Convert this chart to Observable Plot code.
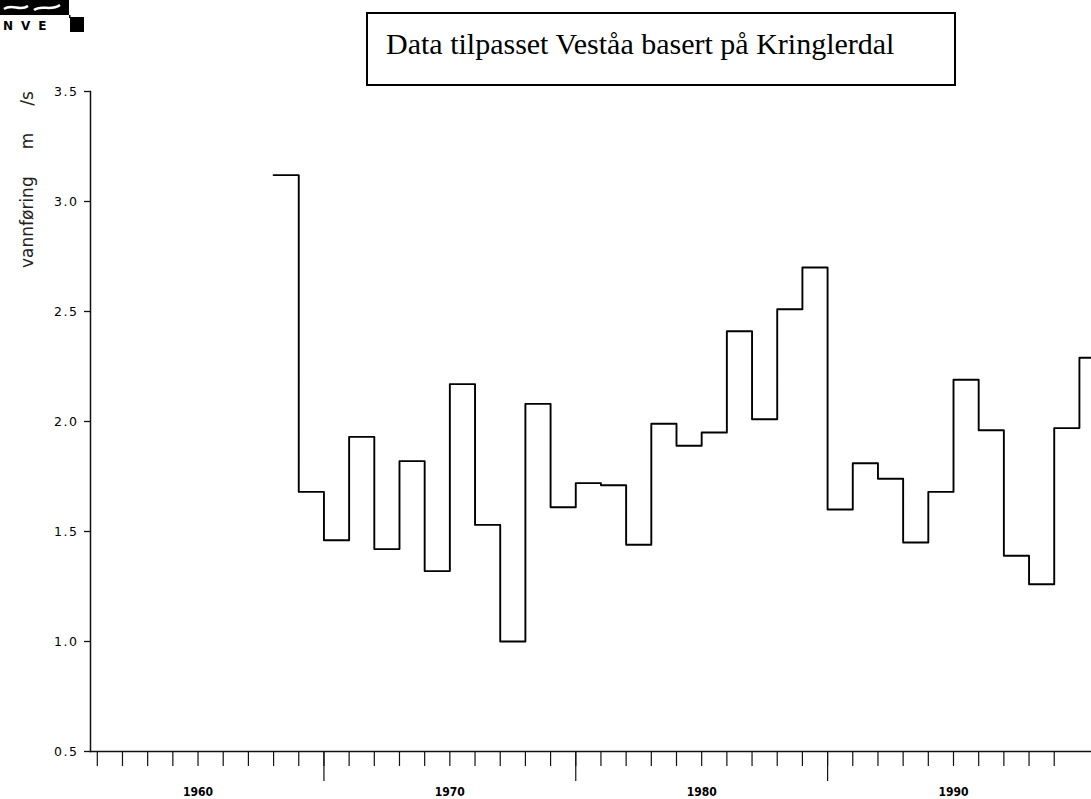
<!DOCTYPE html>
<html>
<head>
<meta charset="utf-8">
<script src="https://cdn.jsdelivr.net/npm/d3@7"></script>
<script src="https://cdn.jsdelivr.net/npm/@observablehq/plot@0.6"></script>
<style>
  html, body { margin: 0; padding: 0; background: #fff; }
  #chart { width: 1091px; height: 799px; }
</style>
</head>
<body>
<div id="chart"></div>
<script>
// ---- data ----
const years = [1963, 1964, 1965, 1966, 1967, 1968, 1969, 1970, 1971, 1972, 1973,
  1974, 1975, 1976, 1977, 1978, 1979, 1980, 1981, 1982, 1983, 1984, 1985, 1986,
  1987, 1988, 1989, 1990, 1991, 1992, 1993, 1994, 1995];
const discharge = [3.12, 1.68, 1.46, 1.93, 1.42, 1.82, 1.32, 2.17, 1.53, 1.00, 2.08,
  1.61, 1.72, 1.71, 1.44, 1.99, 1.89, 1.95, 2.41, 2.01, 2.51, 2.70, 1.60, 1.81,
  1.74, 1.45, 1.68, 2.19, 1.96, 1.39, 1.26, 1.97, 2.29];

const yTicks = [0.5, 1.0, 1.5, 2.0, 2.5, 3.0, 3.5];
const yTickLabels = ["0.5", "1.0", "1.5", "2.0", "2.5", "3.0", "3.5"];
const xMinorTicks = [1956, 1957, 1958, 1959, 1960, 1961, 1962, 1963, 1964, 1965,
  1966, 1967, 1968, 1969, 1970, 1971, 1972, 1973, 1974, 1975, 1976, 1977, 1978,
  1979, 1980, 1981, 1982, 1983, 1984, 1985, 1986, 1987, 1988, 1989, 1990, 1991,
  1992, 1993, 1994];
const xLongTicks = [1965, 1975, 1985];
const xLabelYears = [1960, 1970, 1980, 1990];
const xLabels = ["1960", "1970", "1980", "1990"];

const titleText = "Data tilpasset Veståa basert på Kringlerdal";
const yTitle = "vannføring     m     /s";

// table for the step line (last step is carried on to the next year)
const table = years.map((y, i) => ({year: y, value: discharge[i]}));
table.push({year: years[years.length - 1] + 1, value: discharge[discharge.length - 1]});

const xDomain = [1955.73, 1995.48];

const sans = "'DejaVu Sans', Lato, sans-serif";
const narrow = "'Liberation Sans Narrow', 'DejaVu Sans Condensed', 'DejaVu Sans', sans-serif";

const svg = Plot.plot({
  width: 1091,
  height: 799,
  marginLeft: 90,
  marginRight: 0,
  marginTop: 91,
  marginBottom: 48,
  style: {background: "#fff", color: "#111", overflow: "visible"},
  x: {domain: xDomain, axis: null},
  y: {domain: [0.5, 3.5], axis: null},
  marks: [
    Plot.axisY({
      ticks: yTicks, tickSize: 6, tickPadding: 6,
      tickFormat: d => yTickLabels[yTicks.indexOf(d)],
      strokeWidth: 1.3, label: null
    }),
    Plot.axisX({
      ticks: xMinorTicks, tickSize: 15, tickFormat: () => "",
      strokeWidth: 1.2, label: null
    }),
    Plot.axisX({
      ticks: xLongTicks, tickSize: 30, tickFormat: () => "",
      strokeWidth: 1.2, label: null
    }),
    Plot.axisX({
      ticks: xLabelYears, tickSize: 0, tickPadding: 36,
      tickFormat: d => xLabels[xLabelYears.indexOf(d)],
      label: null
    }),
    Plot.frame({anchor: "left", stroke: "#111", strokeWidth: 1.5}),
    Plot.frame({anchor: "bottom", stroke: "#111", strokeWidth: 1.5}),
    Plot.line(table, {
      x: "year", y: "value", curve: "step-after",
      stroke: "#000", strokeWidth: 1.9, clip: true
    })
  ]
});

const s = d3.select(svg);

// style tick labels
s.selectAll("g[aria-label='y-axis tick label'] text")
  .attr("font-family", sans).attr("font-size", 12.5).attr("letter-spacing", "1.5")
  .attr("font-weight", "500").attr("fill", "#000");
s.selectAll("g[aria-label='x-axis tick label'] text")
  .attr("font-family", narrow).attr("font-size", 12).attr("font-weight", "bold")
  .attr("fill", "#000");

// y-axis title (rotated)
s.append("text")
  .attr("transform", "translate(33,268) rotate(-90)")
  .attr("text-anchor", "start")
  .attr("font-family", sans)
  .attr("font-size", 17)
  .attr("fill", "#222")
  .attr("xml:space", "preserve")
  .style("white-space", "pre")
  .text(yTitle);

// title box
s.append("rect")
  .attr("x", 367).attr("y", 13).attr("width", 588).attr("height", 72)
  .attr("fill", "none").attr("stroke", "#000").attr("stroke-width", 2);
s.append("text")
  .attr("x", 386).attr("y", 54)
  .attr("text-anchor", "start")
  .attr("font-family", "'Liberation Serif', 'Times New Roman', serif")
  .attr("font-size", 30)
  .attr("fill", "#000")
  .text(titleText);

// NVE logo (cropped at the top edge)
const logo = s.append("g");
logo.append("rect").attr("x", 0).attr("y", 0).attr("width", 69).attr("height", 15).attr("fill", "#000");
logo.append("path")
  .attr("d", "M4,9 C12,3 20,12 28,6 M34,10 C42,4 50,12 60,5")
  .attr("fill", "none").attr("stroke", "#fff").attr("stroke-width", 2.5);
logo.append("rect").attr("x", 69).attr("y", 15).attr("width", 1.5).attr("height", 3).attr("fill", "#000");
logo.append("rect").attr("x", 70).attr("y", 17).attr("width", 14).attr("height", 15).attr("fill", "#000");
logo.append("text")
  .attr("x", 3).attr("y", 30)
  .attr("text-anchor", "start")
  .attr("font-family", sans).attr("font-weight", "bold").attr("font-size", 12)
  .attr("letter-spacing", "8")
  .attr("fill", "#000")
  .text("NVE");

document.getElementById("chart").appendChild(svg);
</script>
</body>
</html>
